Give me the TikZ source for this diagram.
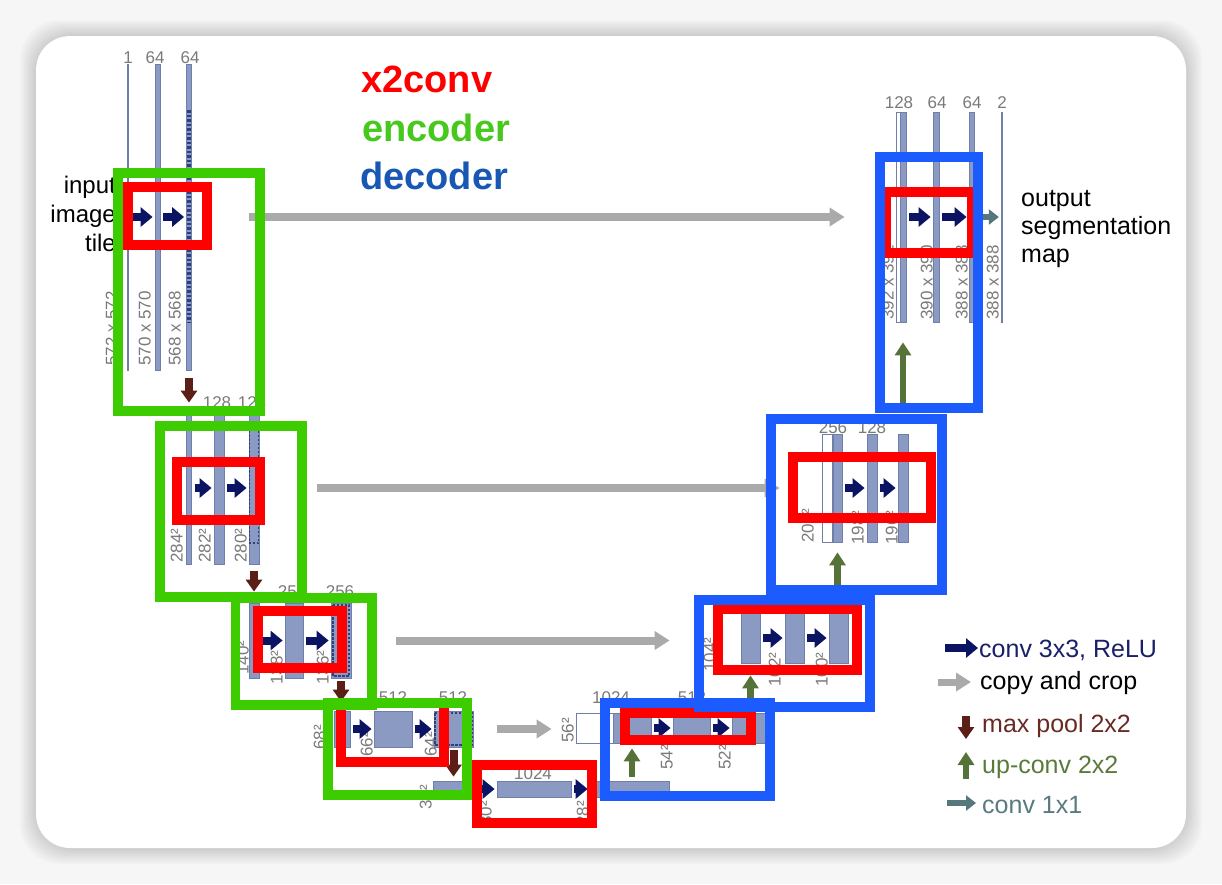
\documentclass[tikz,border=0pt]{standalone}
\usepackage{fontspec}
\setmainfont{Liberation Sans}
\usetikzlibrary{arrows.meta}
\definecolor{pagegray}{HTML}{F6F6F6}
\definecolor{barblue}{HTML}{8A9AC2}
\definecolor{barline}{HTML}{6F7FAA}
\definecolor{cropblue}{HTML}{2E3F80}
\definecolor{arrownavy}{HTML}{0B1463}
\definecolor{copygray}{HTML}{AAAAAA}
\definecolor{poolbrown}{HTML}{5B1F18}
\definecolor{upgreen}{HTML}{557338}
\definecolor{onegray}{HTML}{56787D}
\definecolor{labelgray}{HTML}{7A7A7A}
\definecolor{boxred}{HTML}{FF0000}
\definecolor{boxgreen}{HTML}{3DCC00}
\definecolor{boxblue}{HTML}{1C5CFF}
\definecolor{enctext}{HTML}{48C81C}
\definecolor{dectext}{HTML}{1858B4}
\definecolor{convtext}{HTML}{1A2068}
\definecolor{pooltext}{HTML}{6A2A24}
\definecolor{uptext}{HTML}{5A7A3A}
\definecolor{onetext}{HTML}{587A80}
\tikzset{
  bar/.style={draw=barline, fill=barblue, line width=0.8pt, inner sep=0pt},
  wbar/.style={bar, fill=white},
  num/.style={font=\fontsize{17}{17}\selectfont, text=labelgray, inner sep=0pt, anchor=base},
  dim/.style={font=\fontsize{17}{17}\selectfont, text=labelgray, inner sep=0pt, rotate=90, anchor=south west},
  crop/.style={draw=cropblue, dash pattern=on 2.5pt off 1.5pt, line width=1.6pt},
  conv/.style={draw=arrownavy, line width=8pt, -{Triangle[length=12pt,width=19pt]}, shorten <=3pt, shorten >=2pt},
  copycrop/.style={draw=copygray, line width=8pt, -{Triangle[length=15pt,width=18pt]}},
  pool/.style={draw=poolbrown, line width=8pt, -{Triangle[length=12pt,width=16pt]}},
  upconv/.style={draw=upgreen, line width=6.5pt, -{Triangle[length=13pt,width=16pt]}},
  onebyone/.style={draw=onegray, line width=6pt, -{Triangle[length=10pt,width=15pt]}},
  xconvbox/.style={draw=boxred, line width=10pt},
  encbox/.style={draw=boxgreen, line width=9.5pt},
  decbox/.style={draw=boxblue, line width=10pt},
  legendtext/.style={font=\fontsize{25}{25}\selectfont, anchor=base west, inner sep=0pt},
  headline/.style={font=\fontsize{38}{38}\selectfont\bfseries, anchor=base west, inner sep=0pt},
}
\begin{document}
\begin{tikzpicture}[x=1pt, y=-1pt]
\useasboundingbox (0,0) rectangle (1222,884);
% card with soft shadow
\fill[pagegray] (0,0) rectangle (1222,884);
\foreach \s in {2,4,...,16}
  \fill[black, opacity=0.018, rounded corners=40pt] (36-\s,36-\s) rectangle (1186+\s,848+\s);
\fill[white, rounded corners=34pt] (36,36) rectangle (1186,848);

% titles and texts
\node[headline, text=boxred] (ttlconv) at (361,92) {x2conv};
\node[headline, text=enctext] (ttlenc) at (362,141) {encoder};
\node[headline, text=dectext] (ttldec) at (360,189) {decoder};
\node[font=\fontsize{24}{29}\selectfont, align=right, anchor=north east, inner sep=0pt] (inp) at (116,176) {input\\image\\tile};
\node[font=\fontsize{25}{28}\selectfont, align=left, anchor=north west, inner sep=0pt] (outp) at (1021,190) {output\\segmentation\\map};

% encoder level 1
\node[bar, minimum width=1.5pt, minimum height=306pt] (e11) at (128,217) {};
\node[bar, minimum width=5pt, minimum height=306pt] (e12) at (157.5,217) {};
\node[bar, minimum width=5pt, minimum height=306pt] (e13) at (189,217) {};
\draw[crop, line width=4pt, dash pattern=on 2.5pt off 2pt] (189,110) -- (189,322);
\node[num] (c11) at (128,63) {1};
\node[num] (c12) at (155,63) {64};
\node[num] (c13) at (190,63) {64};
\node[dim] (s11) at (118,366) {572 x 572};
\node[dim] (s12) at (151,366) {570 x 570};
\node[dim] (s13) at (181,366) {568 x 568};

% encoder level 2
\node[bar, minimum width=5pt, minimum height=152pt] (e21) at (189,488) {};
\node[bar, minimum width=10pt, minimum height=152pt] (e22) at (219,488) {};
\node[bar, minimum width=10pt, minimum height=152pt] (e23) at (254,488) {};
\draw[crop] (249.5,430) rectangle (258.5,543);
\node[num] (c22) at (217,408) {128};
\node[num] (c23) at (252,408) {128};
\node[dim] (s21) at (183,563) {284²};
\node[dim] (s22) at (211,563) {282²};
\node[dim] (s23) at (247,563) {280²};

% encoder level 3
\node[bar, minimum width=10pt, minimum height=75pt] (e31) at (254,640.5) {};
\node[bar, minimum width=18pt, minimum height=75pt] (e32) at (294,640.5) {};
\node[bar, minimum width=20pt, minimum height=75pt] (e33) at (341,640.5) {};
\draw[crop] (333,605) rectangle (349,676);
\node[num] (c32) at (292,597) {256};
\node[num] (c33) at (340,597) {256};
\node[dim] (s31) at (249,675) {140²};
\node[dim] (s32) at (283,685) {138²};
\node[dim] (s33) at (329,685) {136²};

% encoder level 4
\node[bar, minimum width=16pt, minimum height=36pt] (e41) at (342,729) {};
\node[bar, minimum width=38pt, minimum height=36pt] (e42) at (393,729) {};
\node[bar, minimum width=39pt, minimum height=36pt] (e43) at (453.5,729) {};
\draw[crop] (435,713) rectangle (472,745);
\node[num] (c42) at (393,703) {512};
\node[num] (c43) at (453,703) {512};
\node[dim] (s41) at (326,750) {68²};
\node[dim] (s42) at (373,757) {66²};
\node[dim] (s43) at (437,757) {64²};

% bottom level
\node[bar, minimum width=45pt, minimum height=16pt] (m1) at (455.5,789) {};
\node[bar, minimum width=74pt, minimum height=16pt] (m2) at (534,789) {};
\node[bar, minimum width=79pt, minimum height=16pt] (m3) at (629.5,789) {};
\node[num] (cm2) at (533,779) {1024};
\node[dim] (sm1) at (432,810) {32²};
\node[dim] (sm2) at (492,826) {30²};
\node[dim] (sm3) at (589,826) {28²};

% decoder level 4
\node[wbar, minimum width=37pt, minimum height=30pt] (d4w) at (594.5,728) {};
\node[bar, minimum width=38pt, minimum height=30pt] (d41) at (632,728) {};
\node[bar, minimum width=37pt, minimum height=30pt] (d42) at (691.5,728) {};
\node[bar, minimum width=35pt, minimum height=30pt] (d43) at (749.5,728) {};
\node[num] (c41d) at (611,703) {1024};
\node[num] (c42d) at (692,703) {512};
\node[dim] (s4w) at (574,743) {56²};
\node[dim] (s41d) at (673,770) {54²};
\node[dim] (s42d) at (731,770) {52²};

% decoder level 3
\node[bar, minimum width=19pt, minimum height=50pt] (d31) at (750.5,638) {};
\node[bar, minimum width=19pt, minimum height=50pt] (d32) at (794.5,638) {};
\node[bar, minimum width=19pt, minimum height=50pt] (d33) at (838.5,638) {};
\node[dim] (s3w) at (716,672) {104²};
\node[dim] (s31d) at (781,687) {102²};
\node[dim] (s32d) at (828,687) {100²};

% decoder level 2
\node[wbar, minimum width=10pt, minimum height=108pt] (d2w) at (827,488) {};
\node[bar, minimum width=9pt, minimum height=108pt] (d21) at (837.5,488) {};
\node[bar, minimum width=10pt, minimum height=108pt] (d22) at (872,488) {};
\node[bar, minimum width=10pt, minimum height=108pt] (d23) at (903,488) {};
\node[num] (c21d) at (833,433) {256};
\node[num] (c22d) at (872,433) {128};
\node[dim] (s2w) at (814,543) {200²};
\node[dim] (s21d) at (864,545) {198²};
\node[dim] (s22d) at (898,545) {196²};

% decoder level 1
\node[wbar, minimum width=4pt, minimum height=210pt] (d1w) at (898,217) {};
\node[bar, minimum width=6pt, minimum height=210pt] (d11) at (903,217) {};
\node[bar, minimum width=6pt, minimum height=210pt] (d12) at (936,217) {};
\node[bar, minimum width=5pt, minimum height=210pt] (d13) at (971.5,217) {};
\node[bar, minimum width=1.5pt, minimum height=210pt] (d14) at (1002,217) {};
\node[num] (c11d) at (899,108) {128};
\node[num] (c12d) at (937,108) {64};
\node[num] (c13d) at (972,108) {64};
\node[num] (c14d) at (1002,108) {2};
\node[dim] (s1w) at (894,320) {392 x 392};
\node[dim] (s11d) at (933,320) {390 x 390};
\node[dim] (s12d) at (968,320) {388 x 388};
\node[dim] (s13d) at (999,320) {388 x 388};

% conv 3x3 arrows
\draw[conv] (e11.east) -- (e12.west);
\draw[conv] (e12.east) -- (e13.west);
\draw[conv] (e21.east) -- (e22.west);
\draw[conv] (e22.east) -- (e23.west);
\draw[conv] (e31.east) -- (e32.west);
\draw[conv] (e32.east) -- (e33.west);
\draw[conv] (e41.east) -- (e42.west);
\draw[conv] (e42.east) -- (e43.west);
\draw[conv] (m1.east) -- (m2.west);
\draw[conv] (m2.east) -- (m3.west);
\draw[conv] (d41.east) -- (d42.west);
\draw[conv] (d42.east) -- (d43.west);
\draw[conv] (d31.east) -- (d32.west);
\draw[conv] (d32.east) -- (d33.west);
\draw[conv] (d21.east) -- (d22.west);
\draw[conv] (d22.east) -- (d23.west);
\draw[conv] (d11.east) -- (d12.west);
\draw[conv] (d12.east) -- (d13.west);
\draw[onebyone, shorten <=9pt, shorten >=2pt] (d13.east) -- (d14.west);

% copy and crop
\draw[copycrop, shorten <=57pt, shorten >=51pt] (e13.east) -- (e13.east -| d1w.west);
\draw[copycrop, shorten <=58pt, shorten >=42pt] (e23.east) -- (e23.east -| d2w.west);
\draw[copycrop, shorten <=45pt, shorten >=71pt] (e33.east) -- (e33.east -| d31.west);
\draw[copycrop, shorten <=24pt, shorten >=24pt] (e43.east) -- (e43.east -| d4w.west);

% max pool
\draw[pool, shorten <=8pt, shorten >=9pt] (e13) -- (e21);
\draw[pool, shorten <=7pt, shorten >=11pt] (e23) -- (e31);
\draw[pool, shorten <=3pt, shorten >=9pt] (e33.south) -- (e33.south |- e41.north);
\draw[pool, shorten <=3pt, shorten >=4pt] (e43.south) -- (e43.south |- m1.north);

% up-conv
\draw[upconv, shorten <=4pt, shorten >=5pt] (d41.south |- m3.north) -- (d41.south);
\draw[upconv, shorten <=13pt, shorten >=12pt] (d31.south |- d43.north) -- (d31.south);
\draw[upconv, shorten <=28pt, shorten >=10pt] (d21.south |- d33.north) -- (d21.south);
\draw[upconv, shorten <=30pt, shorten >=20pt] (d11.south |- d23.north) -- (d11.south);

% x2conv boxes
\draw[xconvbox] (127.5,186.5) rectangle (207,244.5);
\draw[xconvbox] (177,461.5) rectangle (260,520);
\draw[xconvbox] (257.5,610.5) rectangle (341.5,668);
\draw[xconvbox] (341,703) rectangle (444,762);
\draw[xconvbox] (477,765) rectangle (592,823);
\draw[xconvbox] (625,712.5) rectangle (751,740);
\draw[xconvbox] (718,608.5) rectangle (857,670);
\draw[xconvbox] (793,457) rectangle (931,518);
\draw[xconvbox] (886,192) rectangle (972,253);

% encoder boxes
\draw[encbox] (118,173) rectangle (260,411);
\draw[encbox] (160,426) rectangle (302,597);
\draw[encbox] (235.5,598) rectangle (372,705);
\draw[encbox] (328,703) rectangle (467,795);

% decoder boxes
\draw[decbox] (605,703) rectangle (770,796);
\draw[decbox] (699,600) rectangle (870,707);
\draw[decbox] (771,419) rectangle (942,590);
\draw[decbox] (880,157) rectangle (978,408);

% legend
\coordinate (lgconva) at (945,648);
\coordinate (lgconvb) at (978,648);
\coordinate (lgcopya) at (938,682);
\coordinate (lgcopyb) at (971,682);
\coordinate (lgpoola) at (966,716);
\coordinate (lgpoolb) at (966,739);
\coordinate (lgupa) at (966,779);
\coordinate (lgupb) at (966,752);
\coordinate (lgonea) at (947,803);
\coordinate (lgoneb) at (976,803);
\draw[conv, shorten <=0pt, shorten >=0pt] (lgconva) -- (lgconvb);
\draw[copycrop, line width=7pt] (lgcopya) -- (lgcopyb);
\draw[pool] (lgpoola) -- (lgpoolb);
\draw[upconv] (lgupa) -- (lgupb);
\draw[onebyone] (lgonea) -- (lgoneb);
\node[legendtext, text=convtext] (lgconv) at (979,657) {conv 3x3, ReLU};
\node[legendtext, text=black] (lgcopy) at (980,689) {copy and crop};
\node[legendtext, text=pooltext] (lgpool) at (982,732) {max pool 2x2};
\node[legendtext, text=uptext] (lgup) at (982,773) {up-conv 2x2};
\node[legendtext, text=onetext] (lgone) at (982,813) {conv 1x1};
\end{tikzpicture}
\end{document}
